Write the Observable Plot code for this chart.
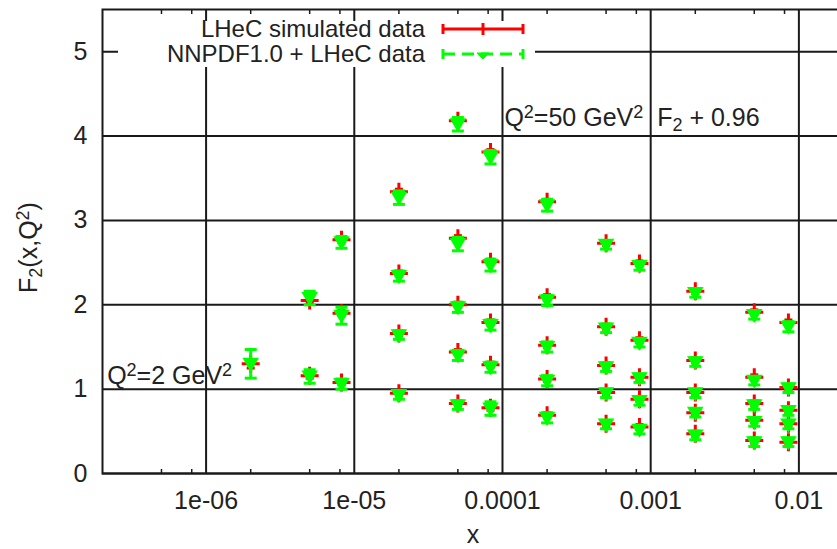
<!DOCTYPE html>
<html><head><meta charset="utf-8">
<script src="https://cdn.jsdelivr.net/npm/d3@7"></script>
<script src="https://cdn.jsdelivr.net/npm/@observablehq/plot@0.6"></script>
<style>
html,body{margin:0;padding:0;background:#fff;overflow:hidden;}
#wrap{position:relative;width:837px;height:549px;}
#legend{position:absolute;left:0;top:0;pointer-events:none;}
</style></head><body><div id="wrap"></div>
<script>
// ---- axis ticks ----
const xMajorTicks = [1e-6, 1e-5, 1e-4, 1e-3, 1e-2];
const xTickLabels = ["1e-06", "1e-05", "0.0001", "0.001", "0.01"];
const xMinorTicks = [5e-7, 8e-7, 2e-6, 5e-6, 8e-6, 2e-5, 5e-5, 8e-5, 2e-4, 5e-4, 8e-4, 2e-3, 5e-3, 8e-3];
const yTicks = [0, 1, 2, 3, 4, 5];

// ---- series ----
const seriesNames = ["LHeC simulated data", "NNPDF1.0 + LHeC data"];
const xValues = [
  2e-6,
  5e-6, 5e-6,
  8.2e-6, 8.2e-6, 8.2e-6,
  2e-5, 2e-5, 2e-5, 2e-5,
  5e-5, 5e-5, 5e-5, 5e-5, 5e-5,
  8.3e-5, 8.3e-5, 8.3e-5, 8.3e-5, 8.3e-5,
  2e-4, 2e-4, 2e-4, 2e-4, 2e-4,
  5e-4, 5e-4, 5e-4, 5e-4, 5e-4,
  8.4e-4, 8.4e-4, 8.4e-4, 8.4e-4, 8.4e-4,
  2e-3, 2e-3, 2e-3, 2e-3, 2e-3,
  5e-3, 5e-3, 5e-3, 5e-3, 5e-3,
  8.5e-3, 8.5e-3, 8.5e-3, 8.5e-3, 8.5e-3
];
const lhecF2 = [
  1.30,
  2.05, 1.16,
  2.77, 1.90, 1.08,
  3.34, 2.37, 1.66, 0.95,
  4.18, 2.79, 2.00, 1.44, 0.83,
  3.81, 2.51, 1.79, 1.29, 0.78,
  3.22, 2.09, 1.52, 1.12, 0.69,
  2.73, 1.74, 1.28, 0.96, 0.59,
  2.49, 1.58, 1.14, 0.88, 0.55,
  2.16, 1.34, 0.96, 0.72, 0.47,
  1.91, 1.14, 0.83, 0.63, 0.39,
  1.79, 1.02, 0.75, 0.59, 0.37
];
const lhecErr = [
  0.05,
  0.03, 0.03,
  0.03, 0.03, 0.03,
  0.03, 0.03, 0.03, 0.03,
  0.03, 0.03, 0.03, 0.03, 0.03,
  0.03, 0.03, 0.03, 0.03, 0.03,
  0.03, 0.03, 0.03, 0.03, 0.03,
  0.03, 0.03, 0.03, 0.03, 0.03,
  0.03, 0.03, 0.03, 0.03, 0.03,
  0.03, 0.03, 0.03, 0.03, 0.03,
  0.03, 0.03, 0.03, 0.03, 0.03,
  0.03, 0.03, 0.03, 0.03, 0.03
];
const nnpdfF2 = [
  1.30,
  2.08, 1.15,
  2.74, 1.87, 1.06,
  3.27, 2.34, 1.64, 0.93,
  4.14, 2.72, 1.97, 1.40, 0.81,
  3.75, 2.47, 1.76, 1.26, 0.77,
  3.18, 2.05, 1.50, 1.10, 0.66,
  2.71, 1.72, 1.26, 0.95, 0.58,
  2.46, 1.55, 1.13, 0.86, 0.52,
  2.14, 1.32, 0.95, 0.72, 0.45,
  1.88, 1.10, 0.81, 0.61, 0.37,
  1.74, 1.01, 0.74, 0.58, 0.37
];
const nnpdfErr = [
  0.17,
  0.08, 0.08,
  0.07, 0.10, 0.06,
  0.08, 0.06, 0.05, 0.05,
  0.08, 0.08, 0.06, 0.06, 0.05,
  0.08, 0.07, 0.06, 0.06, 0.08,
  0.07, 0.06, 0.06, 0.06, 0.06,
  0.05, 0.05, 0.05, 0.05, 0.05,
  0.05, 0.05, 0.05, 0.05, 0.05,
  0.05, 0.05, 0.05, 0.05, 0.05,
  0.05, 0.05, 0.05, 0.05, 0.05,
  0.06, 0.05, 0.05, 0.05, 0.05
];

// ---- annotations (data coordinates) ----
const noteText = ["Q²=2 GeV²", "Q²=50 GeV²  F₂ + 0.96"];
const noteX = [2.15e-7, 1.03e-4];
const noteY = [1.16, 4.21];

const points = xValues.map((x, i) => ({x, r: lhecF2[i], re: lhecErr[i], g: nnpdfF2[i], ge: nnpdfErr[i]}));
const notes = noteText.map((t, i) => ({t, x: noteX[i], y: noteY[i]}));

const RED = "#ff0000", GREEN = "#00ff00", INK = "#1a1a1a";
const rad = s => Math.sqrt(s / Math.PI);
const capSym = {draw(c, s) { const r = rad(s); c.moveTo(-r, 0); c.lineTo(r, 0); }};
const plusSym = {draw(c, s) { const r = rad(s); c.moveTo(-r, 0); c.lineTo(r, 0); c.moveTo(0, -r); c.lineTo(0, r); }};
const triDown = {draw(c, s) { const r = rad(s); c.moveTo(-r, -r * 0.75); c.lineTo(r, -r * 0.75); c.lineTo(0, r * 0.95); c.closePath(); }};

const W = 837, H = 549;
const chart = Plot.plot({
  width: W, height: H,
  marginLeft: 102, marginRight: -6, marginTop: 9, marginBottom: 76,
  style: {fontFamily: "'Liberation Sans', Arial, sans-serif", fontSize: "25px", color: "#222", background: "#fff", overflow: "hidden"},
  x: {type: "log", domain: [2e-7, 2e-2]},
  y: {domain: [0, 5.5]},
  marks: [
    Plot.ruleX(xMajorTicks, {stroke: INK, strokeWidth: 2}),
    Plot.ruleY(yTicks, {stroke: INK, strokeWidth: 2}),
    Plot.frame({stroke: INK, strokeWidth: 2}),
    Plot.axisX(xMinorTicks, {anchor: "bottom", tickSize: -4, tickFormat: () => "", label: null, stroke: INK, strokeWidth: 1.5}),
    Plot.axisX(xMinorTicks, {anchor: "top", tickSize: -4, tickFormat: () => "", label: null, stroke: INK, strokeWidth: 1.5}),
    Plot.axisX(xMajorTicks, {anchor: "bottom", tickSize: 0, tickPadding: 18, fontSize: 25, label: null,
      tickFormat: d => xTickLabels[xMajorTicks.indexOf(d)]}),
    Plot.axisY(yTicks, {anchor: "left", tickSize: 0, tickPadding: 15, fontSize: 25, label: null, tickFormat: d => String(d)}),
    Plot.text(["x"], {frameAnchor: "bottom", textAnchor: "middle", lineAnchor: "middle", dy: 61, fontSize: 25, fill: "#222"}),
    Plot.text(["F₂(x,Q²)"], {frameAnchor: "left", textAnchor: "middle", lineAnchor: "middle", rotate: -90, dx: -74, dy: 6, fontSize: 25, fill: "#222"}),
    Plot.text(notes, {x: "x", y: "y", text: "t", textAnchor: "start", fontSize: 25, fill: "#222"}),
    // LHeC simulated data (red)
    Plot.ruleX(points, {x: "x", y1: d => d.r - d.re, y2: d => d.r + d.re, stroke: RED, strokeWidth: 3}),
    Plot.dot(points, {x: "x", y: d => d.r + d.re, symbol: capSym, r: 4, fill: "none", stroke: RED, strokeWidth: 3}),
    Plot.dot(points, {x: "x", y: d => d.r - d.re, symbol: capSym, r: 4, fill: "none", stroke: RED, strokeWidth: 3}),
    Plot.dot(points, {x: "x", y: "r", symbol: plusSym, r: 9, fill: "none", stroke: RED, strokeWidth: 3}),
    // NNPDF1.0 + LHeC data (green)
    Plot.ruleX(points, {x: "x", y1: d => d.g - d.ge, y2: d => d.g + d.ge, stroke: GREEN, strokeWidth: 3}),
    Plot.dot(points, {x: "x", y: d => d.g + d.ge, symbol: capSym, r: 6, fill: "none", stroke: GREEN, strokeWidth: 3}),
    Plot.dot(points, {x: "x", y: d => d.g - d.ge, symbol: capSym, r: 6, fill: "none", stroke: GREEN, strokeWidth: 3}),
    Plot.dot(points, {x: "x", y: "g", symbol: triDown, r: 7, fill: GREEN, stroke: GREEN, strokeWidth: 1.5})
  ]
});
document.getElementById("wrap").appendChild(chart);

// super/subscripts as tspans
chart.querySelectorAll("text").forEach(el => {
  if (el.children.length || !/[²₂]/.test(el.textContent)) return;
  const s = el.textContent; el.textContent = "";
  let buf = "";
  const flush = () => { if (buf) { el.appendChild(document.createTextNode(buf)); buf = ""; } };
  for (const ch of s) {
    if (ch === "²" || ch === "₂") {
      flush();
      const t = document.createElementNS("http://www.w3.org/2000/svg", "tspan");
      t.setAttribute("font-size", "72%");
      t.setAttribute("baseline-shift", ch === "²" ? "45%" : "-30%");
      t.textContent = "2";
      el.appendChild(t);
    } else buf += ch;
  }
  flush();
});

// legend (key box in the top-left of the frame)
const lg = d3.select("#wrap").append("svg").attr("id", "legend").attr("width", W).attr("height", H);
lg.append("rect").attr("x", 118).attr("y", 21).attr("width", 417).attr("height", 46).attr("fill", "#fff");
const rowsY = [29, 54];
const colors = [RED, GREEN];
seriesNames.forEach((name, i) => {
  const y = rowsY[i];
  lg.append("text").attr("x", 425).attr("y", y).attr("dy", "0.34em").attr("text-anchor", "end")
    .attr("font-family", "'Liberation Sans', Arial, sans-serif").attr("font-size", 24).attr("fill", "#222").text(name);
  const g = lg.append("g").attr("stroke", colors[i]).attr("stroke-width", 3).attr("fill", colors[i]);
  g.append("line").attr("x1", 443).attr("x2", 523).attr("y1", y).attr("y2", y)
    .attr("stroke-dasharray", i ? "12,7" : null);
  g.append("line").attr("x1", 443).attr("x2", 443).attr("y1", y - 5).attr("y2", y + 5);
  g.append("line").attr("x1", 523).attr("x2", 523).attr("y1", y - 5).attr("y2", y + 5);
  if (i === 0) {
    g.append("line").attr("x1", 483).attr("x2", 483).attr("y1", y - 6).attr("y2", y + 6);
  } else {
    g.append("path").attr("d", `M${477},${y - 1}L${489},${y - 1}L${483},${y + 5}Z`).attr("stroke-width", 1);
  }
});
</script></body></html>
